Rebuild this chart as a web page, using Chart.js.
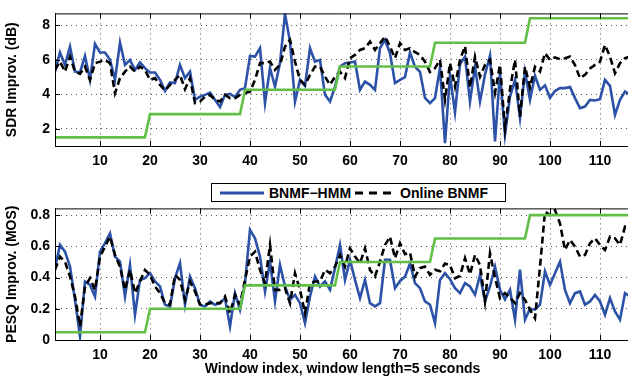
<!DOCTYPE html>
<html>
<head>
<meta charset="utf-8">
<script src="https://cdn.jsdelivr.net/npm/chart.js@4.4.0/dist/chart.umd.min.js"></script>
<style>
  html, body { margin: 0; padding: 0; background: #fff; overflow: hidden; }
  body { width: 628px; height: 378px; position: relative; font-family: "Liberation Sans", Arial, sans-serif; }
  .box { position: absolute; left: 0; }
  #topBox { top: 0; }
  #botBox { top: 195px; }
  #legend {
    position: absolute; left: 211px; top: 183px; width: 293px; height: 17px;
    border: 1px solid #000; background: #fff; display: flex; align-items: center;
    font: bold 14px "Liberation Sans", Arial, sans-serif; color: #000; white-space: nowrap;
  }
  #legend svg { margin: 0 5px 0 8px; }
</style>
</head>
<body>
<div class="box" id="topBox"><canvas id="sdrChart" width="632" height="176"></canvas></div>
<div class="box" id="botBox"><canvas id="pesqChart" width="632" height="183"></canvas></div>
<div id="legend">
  <svg width="44" height="6"><line x1="0" y1="3" x2="44" y2="3" stroke="#2c52a8" stroke-width="3"/></svg><span>BNMF−HMM</span>
  <svg width="40" height="6" style="margin-left:4px"><line x1="0" y1="3" x2="40" y2="3" stroke="#000" stroke-width="3" stroke-dasharray="8 6"/></svg><span>Online BNMF</span>
</div>
<script>
// window index 1..116
const windows = Array.from({ length: 116 }, (_, i) => i + 1);
const xTickVals = [10, 20, 30, 40, 50, 60, 70, 80, 90, 100, 110];

// SDR improvement (dB)
const sdrHmm = [
  5.32, 6.43, 5.71, 6.77, 5.32, 5.27, 6.23, 4.84, 6.93, 6.43, 6.43, 6.0, 4.84, 7.0, 5.71, 6.0, 5.42, 5.85, 5.52, 5.27,
  5.27, 4.84, 4.2, 4.69, 4.65, 5.71, 4.94, 5.32, 3.68, 3.87, 3.97, 4.1, 3.68, 3.26, 3.97, 4.03, 3.84, 4.26, 4.36, 6.23,
  6.19, 6.68, 3.49, 5.52, 4.45, 5.8, 8.67, 7.06, 3.58, 4.84, 4.49, 6.68, 5.9, 6.0, 3.97, 3.58, 4.45, 5.61, 5.81, 5.85,
  5.9, 4.26, 4.74, 4.55, 4.26, 6.68, 7.16, 6.39, 4.65, 4.84, 5.0, 6.42, 5.6, 5.3, 3.8, 3.49,
  3.78, 5.55, 1.17, 5.1, 2.95, 5.75, 6.19, 3.58, 5.61, 3.58, 5.15, 6.25, 1.27, 5.25, 1.65, 3.87, 4.84, 2.62, 5.3, 3.68,
  5.08, 4.26, 4.52, 3.8, 4.2, 4.36, 4.36, 4.42, 3.78, 3.2, 3.29, 3.68, 3.64, 3.72, 4.84, 4.49, 2.81, 3.68, 4.16, 3.97
];
const sdrOnline = [
  5.42, 5.9, 5.32, 6.19, 5.32, 5.19, 5.61, 4.84, 5.81, 5.9, 6.0, 5.81, 4.07, 4.94, 5.32, 5.61, 5.32, 5.61, 5.42, 4.84,
  4.94, 4.55, 4.22, 4.55, 4.84, 5.13, 4.3, 4.94, 3.49, 3.58, 3.87, 3.97, 3.68, 3.58, 3.97, 3.78, 3.78, 3.97, 4.07, 4.16,
  4.84, 5.81, 5.81, 5.9, 5.42, 5.71, 6.77, 7.16, 5.9, 4.84, 4.55, 5.13, 5.61, 5.61, 5.03, 4.55, 5.03, 5.32, 4.94, 6.1,
  6.29, 6.58, 6.68, 7.06, 6.58, 6.97, 7.35, 6.77, 6.1, 6.97, 6.58, 6.68, 6.45, 6.29, 5.9, 5.3,
  5.52, 6.0, 3.7, 5.81, 4.45, 6.0, 6.8, 4.4, 6.19, 5.03, 5.71, 6.0, 4.1, 5.71, 2.0, 4.3, 6.0, 2.71, 5.6, 4.4,
  5.6, 5.32, 6.39, 6.0, 6.15, 6.04, 6.1, 6.19, 5.7, 4.94, 5.13, 5.5, 5.71, 5.9, 6.87, 6.19, 5.23, 5.81, 6.1, 6.19
];

// PESQ improvement (MOS)
const pesqHmm = [
  0.46, 0.609, 0.566, 0.47, 0.257, 0.023, 0.375, 0.353, 0.279, 0.566, 0.62, 0.683, 0.534, 0.502, 0.279, 0.481, 0.162, 0.385, 0.396, 0.428,
  0.375, 0.343, 0.226, 0.215, 0.396, 0.492, 0.226, 0.407, 0.332, 0.226, 0.215, 0.247, 0.226, 0.236, 0.268, 0.087, 0.3, 0.194, 0.364, 0.705,
  0.651, 0.534, 0.311, 0.502, 0.247, 0.481, 0.343, 0.257, 0.289, 0.236, 0.108, 0.279, 0.407, 0.343, 0.375, 0.321, 0.46, 0.609, 0.385, 0.513,
  0.385, 0.268, 0.385, 0.236, 0.215, 0.236, 0.513, 0.513, 0.332, 0.378, 0.406, 0.49, 0.364, 0.332, 0.247, 0.226,
  0.108, 0.385, 0.428, 0.39, 0.332, 0.3, 0.364, 0.343, 0.29, 0.417, 0.247, 0.343, 0.47, 0.321, 0.26, 0.321, 0.13, 0.45, 0.13, 0.2,
  0.194, 0.226, 0.439, 0.353, 0.428, 0.502, 0.321, 0.236, 0.3, 0.311, 0.226, 0.247, 0.289, 0.247, 0.162, 0.268, 0.183, 0.13, 0.3, 0.279
];
const pesqOnline = [
  0.449, 0.534, 0.502, 0.407, 0.279, 0.087, 0.343, 0.396, 0.321, 0.534, 0.598, 0.662, 0.545, 0.47, 0.321, 0.449, 0.3, 0.375, 0.449, 0.417,
  0.343, 0.3, 0.236, 0.226, 0.417, 0.385, 0.257, 0.375, 0.311, 0.226, 0.226, 0.236, 0.236, 0.236, 0.279, 0.172, 0.289, 0.226, 0.385, 0.534,
  0.566, 0.449, 0.364, 0.609, 0.321, 0.321, 0.332, 0.236, 0.428, 0.321, 0.172, 0.364, 0.375, 0.375, 0.449, 0.428, 0.47, 0.545, 0.47, 0.587,
  0.534, 0.492, 0.587, 0.449, 0.407, 0.502, 0.609, 0.662, 0.524, 0.62, 0.55, 0.56, 0.406, 0.46, 0.47, 0.417,
  0.45, 0.44, 0.49, 0.48, 0.396, 0.41, 0.524, 0.42, 0.545, 0.48, 0.247, 0.555, 0.4, 0.268, 0.3, 0.27, 0.236, 0.3, 0.257, 0.194,
  0.14, 0.47, 0.822, 0.8, 0.832, 0.747, 0.577, 0.641, 0.598, 0.534, 0.545, 0.62, 0.651, 0.609, 0.577, 0.662, 0.651, 0.609, 0.726, 0.726
];

// step curve (window length): corner points only
const stepX = [1, 19, 20, 38, 39, 57, 58, 76, 77, 95, 96, 116];
const sdrStep = [1.5, 1.5, 2.85, 2.85, 4.27, 4.27, 5.62, 5.62, 7.0, 7.0, 8.42, 8.42];
const pesqStep = [0.05, 0.05, 0.2, 0.2, 0.35, 0.35, 0.5, 0.5, 0.65, 0.65, 0.8, 0.8];

const BLUE = "#2c52a8";
const GREEN = "#62bf45";
const FONT = { family: "'Liberation Sans', Arial, sans-serif", size: 14, weight: "bold" };

const toXY = (xs, ys) => xs.map((x, i) => ({ x: x, y: ys[i] }));

// box top line + inward ticks (MATLAB style)
const framePlugin = {
  id: "frame",
  afterDatasetsDraw(chart) {
    const { ctx, chartArea: a, scales } = chart;
    ctx.save();
    ctx.strokeStyle = "#000";
    ctx.lineWidth = 1;
    ctx.beginPath();
    ctx.moveTo(a.left, a.top + 0.5);
    ctx.lineTo(a.right, a.top + 0.5);
    ctx.moveTo(a.left + 0.5, a.top);
    ctx.lineTo(a.left + 0.5, a.bottom);
    ctx.moveTo(a.left, a.bottom + 0.5);
    ctx.lineTo(a.right, a.bottom + 0.5);
    scales.x.ticks.forEach(t => {
      const px = Math.round(scales.x.getPixelForValue(t.value)) + 0.5;
      ctx.moveTo(px, a.bottom); ctx.lineTo(px, a.bottom - 5);
      ctx.moveTo(px, a.top); ctx.lineTo(px, a.top + 5);
    });
    scales.y.ticks.forEach(t => {
      const py = Math.round(scales.y.getPixelForValue(t.value)) + 0.5;
      ctx.moveTo(a.left, py); ctx.lineTo(a.left + 5, py);
    });
    ctx.stroke();
    ctx.restore();
  }
};

function makeChart(id, hmm, online, step, yMin, yMax, yTicks, yTitle, xTitle, canvasH, plotBottom) {
  const ctx = document.getElementById(id).getContext("2d");
  return new Chart(ctx, {
    type: "line",
    data: {
      datasets: [
        { label: "step", data: toXY(stepX, step), borderColor: GREEN, borderWidth: 2.6, pointRadius: 0 },
        { label: "Online BNMF", data: toXY(windows, online), borderColor: "#000", borderWidth: 2.6, borderDash: [7, 4], pointRadius: 0 },
        { label: "BNMF-HMM", data: toXY(windows, hmm), borderColor: BLUE, borderWidth: 2.6, pointRadius: 0 }
      ]
    },
    options: {
      responsive: false,
      animation: false,
      tension: 0,
      layout: { padding: { top: 13, right: 2, left: 0, bottom: 0 } },
      plugins: { legend: { display: false }, tooltip: { enabled: false } },
      scales: {
        x: {
          type: "linear", min: 1, max: 116,
          afterBuildTicks: s => { s.ticks = xTickVals.map(v => ({ value: v })); },
          afterFit: s => { s.height = canvasH - plotBottom; },
          grid: { color: "#555", lineWidth: 1, drawTicks: false },
          border: { color: "#000", width: 1, dash: [1, 4] },
          ticks: { color: "#000", font: FONT, padding: 7, maxRotation: 0, autoSkip: false },
          title: { display: !!xTitle, text: xTitle || "", color: "#000", font: FONT, padding: { top: 0, bottom: 0 } }
        },
        y: {
          min: yMin, max: yMax,
          afterBuildTicks: s => { s.ticks = yTicks.map(v => ({ value: v })); },
          afterFit: s => { s.width = 55; },
          grid: { color: "#555", lineWidth: 1, drawTicks: false },
          border: { color: "#000", width: 1, dash: [1, 4] },
          ticks: { color: "#000", font: FONT, padding: 5, autoSkip: false },
          title: { display: true, text: yTitle, color: "#000", font: FONT, padding: { top: 4, bottom: 0 } }
        }
      }
    },
    plugins: [framePlugin]
  });
}

makeChart("sdrChart", sdrHmm, sdrOnline, sdrStep, 1, 8.7, [2, 4, 6, 8], "SDR Improv. (dB)", null, 176, 146);
makeChart("pesqChart", pesqHmm, pesqOnline, pesqStep, 0, 0.843, [0, 0.2, 0.4, 0.6, 0.8], "PESQ Improv. (MOS)", "Window index, window length=5 seconds", 183, 145);
</script>
</body>
</html>
